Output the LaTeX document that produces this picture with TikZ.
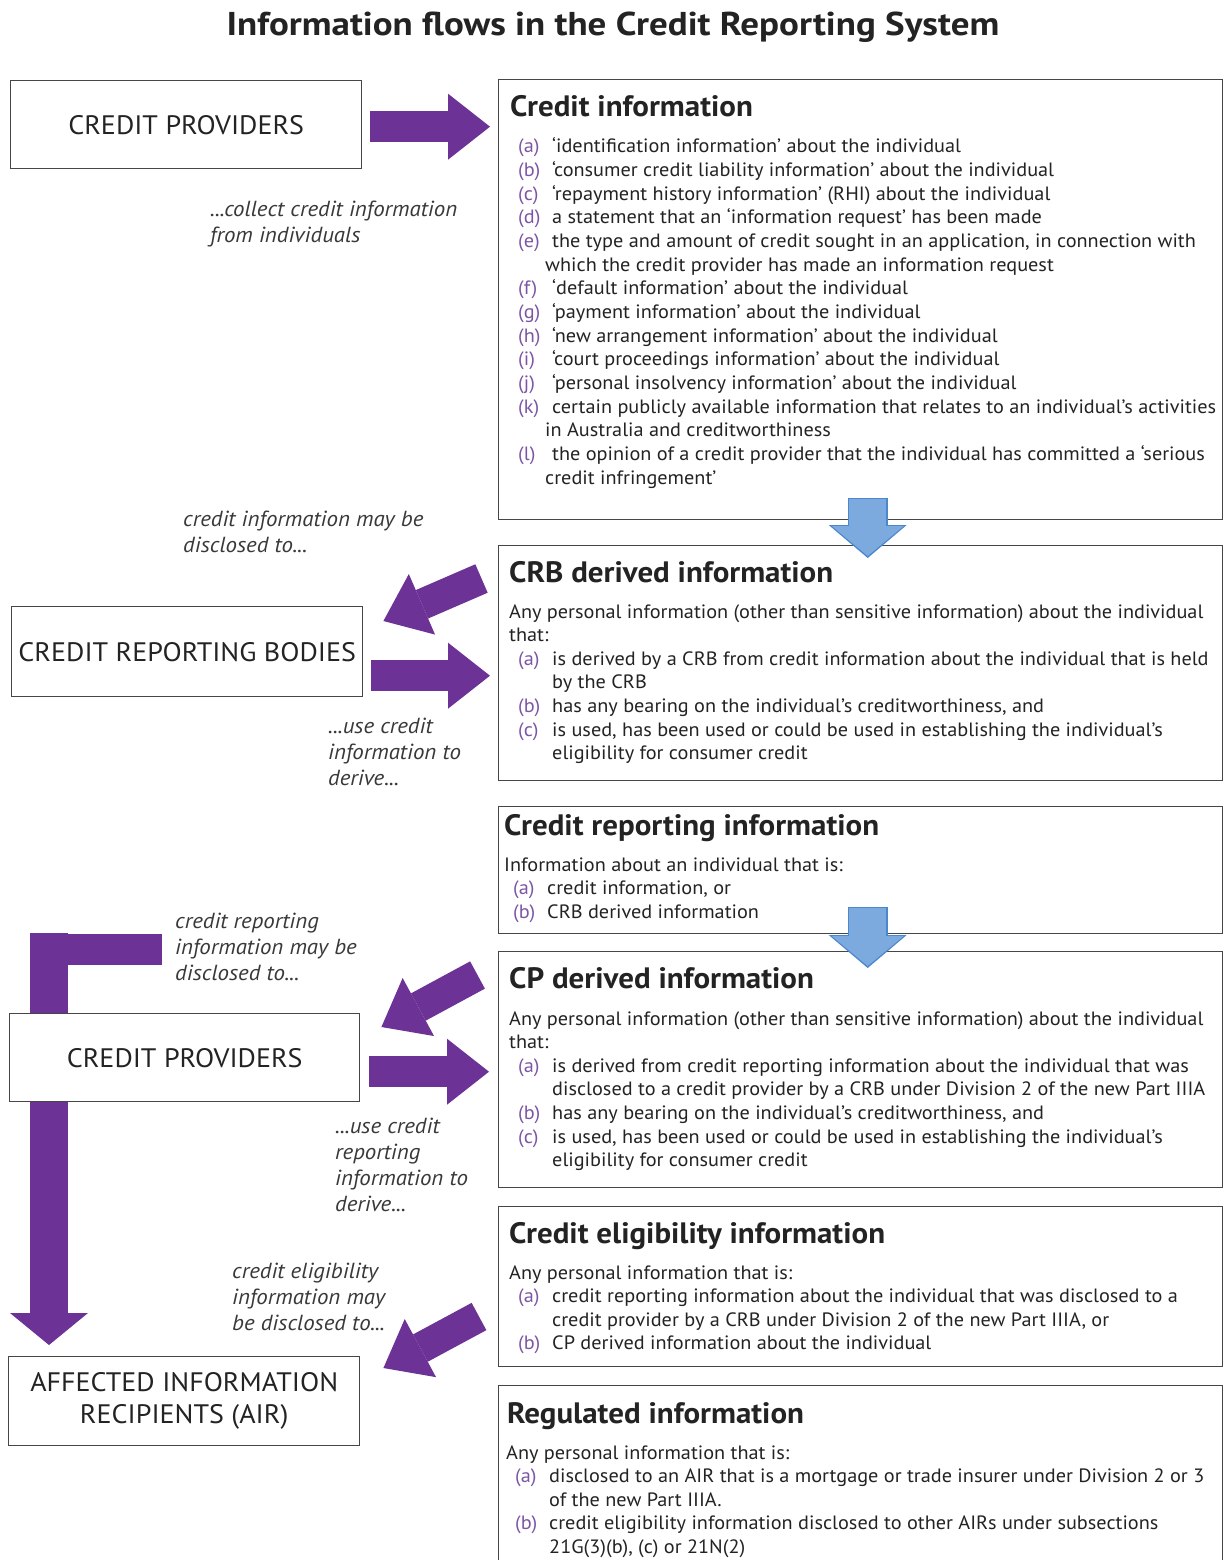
\documentclass[tikz,border=0pt]{standalone}
\usepackage{fontspec}
\setmainfont{PT Sans}[FakeStretch=1.05]
\usetikzlibrary{arrows.meta,calc}
\definecolor{purp}{RGB}{108,50,150}
\definecolor{lab}{RGB}{125,85,165}
\definecolor{txt}{RGB}{35,35,35}
\definecolor{bord}{RGB}{70,70,70}
\definecolor{bfill}{RGB}{125,170,222}
\definecolor{bline}{RGB}{75,135,205}
\newcommand\LI[2]{\hspace*{9pt}\makebox[34pt][l]{\textcolor{lab}{(#1)}}#2}
\newcommand\LC[1]{\hspace*{43pt}#1}
\newcommand\LD[1]{\hspace*{36pt}#1}
\renewcommand{\arraystretch}{1}
\tikzset{
  rbox/.style={draw=bord, line width=1.4pt, fill=white, inner sep=0pt, anchor=north west},
  lbox/.style={draw=bord, line width=1.4pt, fill=white, inner sep=0pt, anchor=north west,
    align=center, text=txt, font=\fontsize{26.7}{32}\selectfont},
  ttl/.style={anchor=base west, inner sep=0pt, text=txt, font=\bfseries\fontsize{29.5}{32}\selectfont},
  body/.style={anchor=base west, inner sep=0pt, text=txt, font=\fontsize{19.3}{23.65}\selectfont},
  note/.style={anchor=base west, inner sep=0pt, text=txt!90, font=\itshape\fontsize{21.8}{26}\selectfont},
  purparrow/.style={draw=purp, line width=31pt, -{Triangle[length=42pt,width=66pt,line width=0pt]}},
  bluebase/.style={draw=bline, line width=40pt, -{Triangle[length=33pt,width=78pt,line width=0pt]}},
  bluetop/.style={draw=bfill, line width=37pt, -{Triangle[length=30pt,width=72pt,line width=0pt]}}
}
\begin{document}
\begin{tikzpicture}[x=1pt,y=1pt]
\clip (0,0) rectangle (1223,-1560);
\fill[white] (0,0) rectangle (1223,-1560);

\node[anchor=base, inner sep=0pt, text=txt, font=\bfseries\fontsize{33}{38}\addfontfeatures{FakeStretch=1.12}] (title) at (613,-36)
  {Information flows in the Credit Reporting System};

% right boxes
\node[rbox, minimum width=724pt, minimum height=440pt] (ci) at (498,-79) {};
\node[rbox, minimum width=724pt, minimum height=235pt] (crbd) at (498,-545) {};
\node[rbox, minimum width=724pt, minimum height=127pt] (cri) at (498,-806) {};
\node[rbox, minimum width=724pt, minimum height=236pt] (cpd) at (498,-951) {};
\node[rbox, minimum width=724pt, minimum height=160pt] (cei) at (498,-1206) {};
\node[rbox, minimum width=724pt, minimum height=200pt] (reg) at (498,-1385) {};

% left boxes
\coordinate (lstart) at (162,-949);
\coordinate (lcol) at (49,-933);
\node[lbox, minimum width=351pt, minimum height=88pt] (cp1) at (10,-80) {CREDIT PROVIDERS};
\node[lbox, minimum width=351pt, minimum height=90pt] (crb) at (11,-606) {CREDIT REPORTING BODIES};
\node[lbox, minimum width=350pt, minimum height=88pt] (cp2) at (9,-1013) {CREDIT PROVIDERS};
\node[lbox, minimum width=351pt, minimum height=89pt] (air) at (8,-1356) {AFFECTED INFORMATION\\RECIPIENTS (AIR)};

% L-shaped purple arrow
\draw[draw=purp, line width=31pt] (lstart) -- (30,-949);
\draw[draw=purp, line width=38pt] (lcol) -- (lcol |- cp2.north);
\draw[draw=purp, line width=38pt, -{Triangle[length=32pt,width=78pt,line width=0pt]}]
  (lcol |- cp2.south) -- ($(air.north west)+(41,11)$);

% titles
\node[ttl] (ci-t) at (510,-117) {Credit information};
\node[ttl] (crbd-t) at (509,-582) {CRB derived information};
\node[ttl] (cri-t) at (504,-835) {Credit reporting information};
\node[ttl] (cpd-t) at (509,-988) {CP derived information};
\node[ttl] (cei-t) at (509,-1243) {Credit eligibility information};
\node[ttl] (reg-t) at (507,-1423) {Regulated information};

% bodies
\node[body] (ci-b) at (509,-153) {\begin{tabular}[t]{@{}l@{}}
\LI{a}{‘identification information’ about the individual}\\
\LI{b}{‘consumer credit liability information’ about the individual}\\
\LI{c}{‘repayment history information’ (RHI) about the individual}\\
\LI{d}{a statement that an ‘information request’ has been made}\\
\LI{e}{the type and amount of credit sought in an application, in connection with}\\
\LD{which the credit provider has made an information request}\\
\LI{f}{‘default information’ about the individual}\\
\LI{g}{‘payment information’ about the individual}\\
\LI{h}{‘new arrangement information’ about the individual}\\
\LI{i}{‘court proceedings information’ about the individual}\\
\LI{j}{‘personal insolvency information’ about the individual}\\
\LI{k}{certain publicly available information that relates to an individual’s activities}\\
\LD{in Australia and creditworthiness}\\
\LI{l}{the opinion of a credit provider that the individual has committed a ‘serious}\\
\LD{credit infringement’}
\end{tabular}};

\node[body] (crbd-b) at (509,-618) {\begin{tabular}[t]{@{}l@{}}
Any personal information (other than sensitive information) about the individual\\
that:\\
\LI{a}{is derived by a CRB from credit information about the individual that is held}\\
\LC{by the CRB}\\
\LI{b}{has any bearing on the individual’s creditworthiness, and}\\
\LI{c}{is used, has been used or could be used in establishing the individual’s}\\
\LC{eligibility for consumer credit}
\end{tabular}};

\node[body] (cri-b) at (504,-871) {\begin{tabular}[t]{@{}l@{}}
Information about an individual that is:\\
\LI{a}{credit information, or}\\
\LI{b}{CRB derived information}
\end{tabular}};

\node[body] (cpd-b) at (509,-1025) {\begin{tabular}[t]{@{}l@{}}
Any personal information (other than sensitive information) about the individual\\
that:\\
\LI{a}{is derived from credit reporting information about the individual that was}\\
\LC{disclosed to a credit provider by a CRB under Division 2 of the new Part IIIA}\\
\LI{b}{has any bearing on the individual’s creditworthiness, and}\\
\LI{c}{is used, has been used or could be used in establishing the individual’s}\\
\LC{eligibility for consumer credit}
\end{tabular}};

\node[body] (cei-b) at (509,-1279) {\begin{tabular}[t]{@{}l@{}}
Any personal information that is:\\
\LI{a}{credit reporting information about the individual that was disclosed to a}\\
\LC{credit provider by a CRB under Division 2 of the new Part IIIA, or}\\
\LI{b}{CP derived information about the individual}
\end{tabular}};

\node[body] (reg-b) at (506,-1459) {\begin{tabular}[t]{@{}l@{}}
Any personal information that is:\\
\LI{a}{disclosed to an AIR that is a mortgage or trade insurer under Division 2 or 3}\\
\LC{of the new Part IIIA.}\\
\LI{b}{credit eligibility information disclosed to other AIRs under subsections}\\
\LC{21G(3)(b), (c) or 21N(2)}
\end{tabular}};

% notes
\node[note] (n1) at (210,-216) {\begin{tabular}[t]{@{}l@{}}...collect credit information\\from individuals\end{tabular}};
\node[note] (n2) at (183,-526) {\begin{tabular}[t]{@{}l@{}}credit information may be\\disclosed to...\end{tabular}};
\node[note] (n3) at (328,-733) {\begin{tabular}[t]{@{}l@{}}...use credit\\information to\\derive...\end{tabular}};
\node[note] (n4) at (175,-928) {\begin{tabular}[t]{@{}l@{}}credit reporting\\information may be\\disclosed to...\end{tabular}};
\node[note] (n5) at (335,-1133) {\begin{tabular}[t]{@{}l@{}}...use credit\\reporting\\information to\\derive...\end{tabular}};
\node[note] (n6) at (232,-1278) {\begin{tabular}[t]{@{}l@{}}credit eligibility\\information may\\be disclosed to...\end{tabular}};

% purple arrows
\draw[purparrow] ($(cp1.east)+(8,-2)$) -- ($(ci.west |- cp1.east)+(-8,-2)$);
\draw[purparrow] ($(crb.east)+(8,-24)$) -- ($(crbd.west |- crb.east)+(-8,-24)$);
\draw[purparrow] ($(cp2.east)+(9,-14)$) -- ($(cpd.west |- cp2.east)+(-9,-14)$);
\draw[purparrow] ($(crbd.north west)+(-16.5,-33.5)$) -- ($(crb.north east)+(20,-15)$);
\draw[purparrow] ($(cpd.north west)+(-20.5,-24)$) -- ($(cp2.north east)+(21,-14)$);
\draw[purparrow] ($(cei.north west)+(-19,-110.5)$) -- ($(air.north east)+(23,-12)$);

% blue arrows
\draw[bluebase] ($(ci.south)+(7,22.5)$) -- ($(crbd.north)+(7,-13)$);
\draw[bluetop] ($(ci.south)+(7,21)$) -- ($(crbd.north)+(7,-11)$);
\draw[bluebase] ($(cri.south)+(7,27.5)$) -- ($(cpd.north)+(7,-17)$);
\draw[bluetop] ($(cri.south)+(7,26)$) -- ($(cpd.north)+(7,-15)$);
\end{tikzpicture}
\end{document}
